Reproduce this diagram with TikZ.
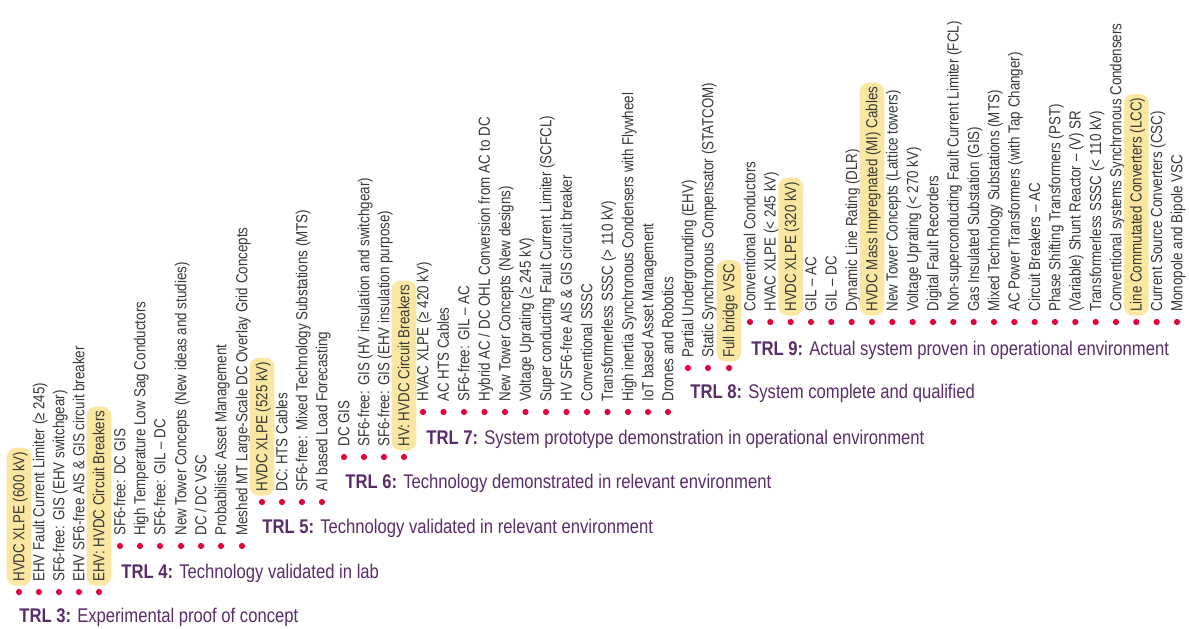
\documentclass[tikz,border=0pt]{standalone}
\usepackage{fontspec}
\setmainfont{Liberation Sans}[FakeStretch=0.84]
\newfontfamily\itemfont{Liberation Sans}[FakeStretch=0.835]
\newfontfamily\labelfont{Liberation Sans}[FakeStretch=0.84]
\definecolor{itemgray}{HTML}{383838}
\definecolor{trlpurple}{HTML}{5B2C6B}
\definecolor{dotred}{HTML}{E3003B}
\definecolor{hlyellow}{HTML}{FBE7A1}
\tikzset{
  dotmark/.style={circle,fill=dotred,inner sep=0pt,minimum size=3.1pt},
  itemtext/.style={rotate=90,anchor=west,font=\itemfont\fontsize{8}{9}\selectfont,
    text=itemgray,inner xsep=2pt,inner ysep=1.4pt,text height=0.74em,text depth=0.21em},
  hl/.style={fill=hlyellow,rounded corners=4.6pt},
  trllabel/.style={anchor=base west,inner sep=0pt,font=\labelfont\fontsize{9.9}{11}\selectfont,text=trlpurple},
}
% one technology: a dot and the rotated name above it
\newcommand\trlitem[5][]{%
  \node[dotmark] (#2-dot) at (#3,#4) {};
  \node[itemtext,#1] (#2) at (#3,#4-6) {#5};
}
\begin{document}
\begin{tikzpicture}[x=0.5pt,y=-0.5pt]
\useasboundingbox[fill=white] (0,0) rectangle (1189,628);

% TRL 3
\trlitem[hl]{a1}{19}{592}{HVDC XLPE (600 kV)}
\trlitem{a2}{39}{592}{EHV Fault Current Limiter (≥ 245)}
\trlitem{a3}{59}{592}{SF6-free: GIS (EHV switchgear)}
\trlitem{a4}{79}{592}{EHV SF6-free AIS \& GIS circuit breaker}
\trlitem[hl]{a5}{99}{592}{EHV: HVDC Circuit Breakers}
\node[trllabel] (trl3) at (19,622) {\textbf{TRL 3:} Experimental proof of concept};

% TRL 4
\trlitem{b1}{120}{546}{SF6-free: DC GIS}
\trlitem{b2}{140}{546}{High Temperature Low Sag Conductors}
\trlitem{b3}{160}{546}{SF6-free: GIL – DC}
\trlitem{b4}{181}{546}{New Tower Concepts (New ideas and studies)}
\trlitem{b5}{201}{546}{DC / DC VSC}
\trlitem{b6}{221}{546}{Probabilistic Asset Management}
\trlitem{b7}{242}{546}{Meshed MT Large-Scale DC Overlay Grid Concepts}
\node[trllabel] (trl4) at (121,578) {\textbf{TRL 4:} Technology validated in lab};

% TRL 5
\trlitem[hl]{c1}{262}{502}{HVDC XLPE (525 kV)}
\trlitem{c2}{282}{502}{DC: HTS Cables}
\trlitem{c3}{302}{502}{SF6-free: Mixed Technology Substations (MTS)}
\trlitem{c4}{322}{502}{AI based Load Forecasting}
\node[trllabel] (trl5) at (262,533) {\textbf{TRL 5:} Technology validated in relevant environment};

% TRL 6
\trlitem{d1}{344}{457}{DC GIS}
\trlitem{d2}{364}{457}{SF6-free: GIS (HV insulation and switchgear)}
\trlitem{d3}{384}{457}{SF6-free: GIS (EHV insulation purpose)}
\trlitem[hl]{d4}{404}{457}{HV: HVDC Circuit Breakers}
\node[trllabel] (trl6) at (345,488) {\textbf{TRL 6:} Technology demonstrated in relevant environment};

% TRL 7
\trlitem{e1}{423}{412}{HVAC XLPE (≥ 420 kV)}
\trlitem{e2}{443.5}{412}{AC HTS Cables}
\trlitem{e3}{464}{412}{SF6-free: GIL – AC}
\trlitem{e4}{484.5}{412}{Hybrid AC / DC OHL Conversion from AC to DC}
\trlitem{e5}{505}{412}{New Tower Concepts (New designs)}
\trlitem{e6}{525.5}{412}{Voltage Uprating (≥ 245 kV)}
\trlitem{e7}{546}{412}{Super conducting Fault Current Limiter (SCFCL)}
\trlitem{e8}{566.5}{412}{HV SF6-free AIS \& GIS circuit breaker}
\trlitem{e9}{587}{412}{Conventional SSSC}
\trlitem{e10}{607.5}{412}{Transformerless SSSC (> 110 kV)}
\trlitem{e11}{628}{412}{High inertia Synchronous Condensers with Flywheel}
\trlitem{e12}{648}{412}{IoT based Asset Management}
\trlitem{e13}{668}{412}{Drones and Robotics}
\node[trllabel] (trl7) at (426,444) {\textbf{TRL 7:} System prototype demonstration in operational environment};

% TRL 8
\trlitem{f1}{688}{368}{Partial Undergrounding (EHV)}
\trlitem{f2}{708}{368}{Static Synchronous Compensator (STATCOM)}
\trlitem[hl]{f3}{729}{368}{Full bridge VSC}
\node[trllabel] (trl8) at (690,398) {\textbf{TRL 8:} System complete and qualified};

% TRL 9
\trlitem{g1}{750}{322}{Conventional Conductors}
\trlitem{g2}{770.3}{322}{HVAC XLPE (< 245 kV)}
\trlitem[hl]{g3}{790.7}{322}{HVDC XLPE (320 kV)}
\trlitem{g4}{811}{322}{GIL – AC}
\trlitem{g5}{831.3}{322}{GIL – DC}
\trlitem{g6}{851.7}{322}{Dynamic Line Rating (DLR)}
\trlitem[hl]{g7}{872}{322}{HVDC Mass Impregnated (MI) Cables}
\trlitem{g8}{892.3}{322}{New Tower Concepts (Lattice towers)}
\trlitem{g9}{912.7}{322}{Voltage Uprating (< 270 kV)}
\trlitem{g10}{933}{322}{Digital Fault Recorders}
\trlitem{g11}{953.3}{322}{Non-superconducting Fault Current Limiter (FCL)}
\trlitem{g12}{973.7}{322}{Gas Insulated Substation (GIS)}
\trlitem{g13}{994}{322}{Mixed Technology Substations (MTS)}
\trlitem{g14}{1014.3}{322}{AC Power Transformers (with Tap Changer)}
\trlitem{g15}{1034.7}{322}{Circuit Breakers – AC}
\trlitem{g16}{1055}{322}{Phase Shifting Transformers (PST)}
\trlitem{g17}{1075.3}{322}{(Variable) Shunt Reactor – (V) SR}
\trlitem{g18}{1095.7}{322}{Transformerless SSSC (< 110 kV)}
\trlitem{g19}{1116}{322}{Conventional systems Synchronous Condensers}
\trlitem[hl]{g20}{1136.3}{322}{Line Commutated Converters (LCC)}
\trlitem{g21}{1156.7}{322}{Current Source Converters (CSC)}
\trlitem{g22}{1177}{322}{Monopole and Bipole VSC}
\node[trllabel] (trl9) at (751,355) {\textbf{TRL 9:} Actual system proven in operational environment};
\end{tikzpicture}
\end{document}
